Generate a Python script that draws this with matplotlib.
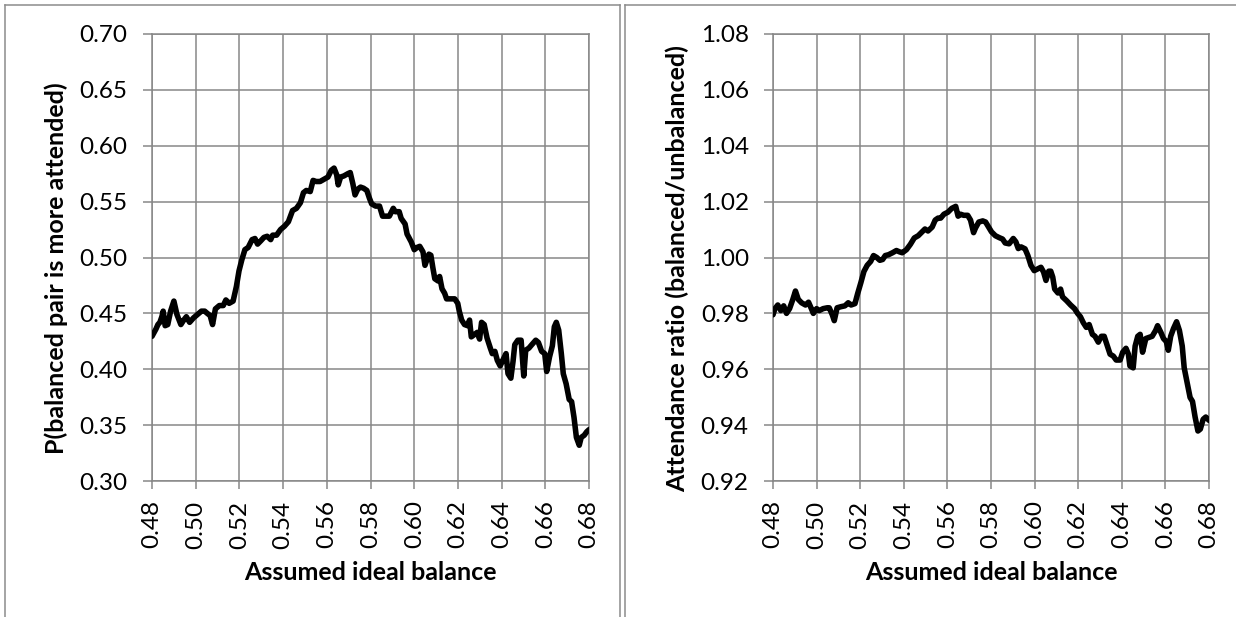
import matplotlib
matplotlib.use("Agg")
import matplotlib.pyplot as plt
from matplotlib.lines import Line2D
from matplotlib.ticker import FormatStrFormatter

plt.rcParams['font.family'] = ['Lato', 'DejaVu Sans']

# ---- data ----
x_left = [0.4800, 0.4818, 0.4827, 0.4836, 0.4845, 0.4851, 0.4860, 0.4872, 0.4885, 0.4900,
          0.4914, 0.4932, 0.4945, 0.4957, 0.4972, 0.4990, 0.5008, 0.5026, 0.5041, 0.5053,
          0.5066, 0.5077, 0.5090, 0.5108, 0.5126, 0.5138, 0.5153, 0.5171, 0.5186, 0.5198,
          0.5211, 0.5225, 0.5240, 0.5258, 0.5271, 0.5283, 0.5298, 0.5312, 0.5327, 0.5343,
          0.5352, 0.5370, 0.5388, 0.5406, 0.5424, 0.5443, 0.5461, 0.5479, 0.5493, 0.5506,
          0.5524, 0.5537, 0.5551, 0.5569, 0.5587, 0.5605, 0.5620, 0.5633, 0.5645, 0.5652,
          0.5663, 0.5678, 0.5696, 0.5707, 0.5719, 0.5729, 0.5741, 0.5754, 0.5768, 0.5783,
          0.5795, 0.5805, 0.5823, 0.5841, 0.5855, 0.5868, 0.5886, 0.5904, 0.5913, 0.5931,
          0.5940, 0.5958, 0.5967, 0.5986, 0.6000, 0.6013, 0.6025, 0.6040, 0.6049, 0.6058,
          0.6067, 0.6076, 0.6085, 0.6094, 0.6109, 0.6116, 0.6127, 0.6139, 0.6148, 0.6167,
          0.6185, 0.6199, 0.6206, 0.6217, 0.6230, 0.6244, 0.6253, 0.6261, 0.6275, 0.6288,
          0.6299, 0.6308, 0.6320, 0.6333, 0.6348, 0.6357, 0.6369, 0.6380, 0.6393, 0.6405,
          0.6420, 0.6429, 0.6442, 0.6452, 0.6460, 0.6474, 0.6489, 0.6501, 0.6510, 0.6525,
          0.6538, 0.6556, 0.6568, 0.6583, 0.6597, 0.6606, 0.6619, 0.6632, 0.6641, 0.6650,
          0.6661, 0.6673, 0.6682, 0.6695, 0.6709, 0.6720, 0.6731, 0.6742, 0.6755, 0.6764,
          0.6778, 0.6789, 0.6800]
p_balanced = [0.4295, 0.436, 0.440, 0.442, 0.447, 0.452, 0.439, 0.440, 0.452, 0.461,
              0.449, 0.440, 0.444, 0.447, 0.442, 0.446, 0.449, 0.452, 0.452, 0.450,
              0.448, 0.440, 0.454, 0.457, 0.457, 0.462, 0.459, 0.461, 0.474, 0.488,
              0.498, 0.507, 0.509, 0.516, 0.517, 0.512, 0.515, 0.518, 0.519, 0.516,
              0.520, 0.520, 0.525, 0.528, 0.532, 0.542, 0.544, 0.549, 0.558, 0.560,
              0.559, 0.569, 0.568, 0.568, 0.570, 0.572, 0.578, 0.580, 0.574, 0.565,
              0.572, 0.573, 0.575, 0.576, 0.566, 0.556, 0.561, 0.563, 0.562, 0.560,
              0.553, 0.548, 0.546, 0.546, 0.537, 0.537, 0.537, 0.544, 0.541, 0.541,
              0.535, 0.530, 0.521, 0.514, 0.507, 0.509, 0.510, 0.505, 0.493, 0.498,
              0.503, 0.502, 0.491, 0.481, 0.479, 0.483, 0.472, 0.468, 0.463, 0.463,
              0.463, 0.459, 0.452, 0.444, 0.440, 0.439, 0.444, 0.429, 0.431, 0.433,
              0.427, 0.442, 0.440, 0.428, 0.419, 0.414, 0.416, 0.408, 0.403, 0.408,
              0.414, 0.396, 0.392, 0.407, 0.422, 0.426, 0.426, 0.394, 0.417, 0.419,
              0.422, 0.426, 0.424, 0.416, 0.414, 0.398, 0.411, 0.421, 0.438, 0.442,
              0.435, 0.414, 0.396, 0.387, 0.373, 0.371, 0.357, 0.339, 0.332, 0.339,
              0.341, 0.344, 0.346]

x_right = [0.4800, 0.4809, 0.4822, 0.4836, 0.4849, 0.4862, 0.4876, 0.4891, 0.4903, 0.4916,
           0.4931, 0.4949, 0.4963, 0.4976, 0.4985, 0.5000, 0.5012, 0.5030, 0.5049, 0.5058,
           0.5072, 0.5081, 0.5094, 0.5112, 0.5130, 0.5145, 0.5158, 0.5176, 0.5188, 0.5203,
           0.5217, 0.5232, 0.5248, 0.5261, 0.5276, 0.5290, 0.5303, 0.5315, 0.5330, 0.5348,
           0.5366, 0.5381, 0.5393, 0.5412, 0.5430, 0.5448, 0.5466, 0.5484, 0.5497, 0.5511,
           0.5530, 0.5544, 0.5557, 0.5569, 0.5584, 0.5602, 0.5620, 0.5638, 0.5649, 0.5660,
           0.5675, 0.5693, 0.5706, 0.5720, 0.5729, 0.5744, 0.5762, 0.5775, 0.5789, 0.5802,
           0.5820, 0.5838, 0.5853, 0.5865, 0.5883, 0.5902, 0.5914, 0.5925, 0.5938, 0.5956,
           0.5969, 0.5983, 0.5998, 0.6016, 0.6029, 0.6041, 0.6052, 0.6065, 0.6074, 0.6083,
           0.6092, 0.6107, 0.6119, 0.6128, 0.6147, 0.6165, 0.6183, 0.6197, 0.6210, 0.6223,
           0.6237, 0.6250, 0.6265, 0.6277, 0.6292, 0.6306, 0.6319, 0.6334, 0.6346, 0.6361,
           0.6374, 0.6392, 0.6404, 0.6419, 0.6430, 0.6437, 0.6452, 0.6461, 0.6473, 0.6484,
           0.6495, 0.6510, 0.6524, 0.6539, 0.6555, 0.6564, 0.6579, 0.6591, 0.6604, 0.6613,
           0.6624, 0.6637, 0.6651, 0.6664, 0.6677, 0.6686, 0.6700, 0.6713, 0.6724, 0.6736,
           0.6749, 0.6760, 0.6773, 0.6785, 0.6800]
att_ratio = [0.9795, 0.9817, 0.983, 0.981, 0.9827, 0.980, 0.9817, 0.985, 0.988, 0.985,
             0.9838, 0.983, 0.984, 0.9817, 0.980, 0.9817, 0.981, 0.9817, 0.982, 0.982,
             0.9795, 0.9774, 0.982, 0.9824, 0.9827, 0.9838, 0.983, 0.9835, 0.987, 0.991,
             0.995, 0.9972, 0.9986, 1.0007, 1.000, 0.999, 0.9993, 1.0007, 1.001, 1.0017,
             1.0025, 1.002, 1.0017, 1.0028, 1.0047, 1.007, 1.0078, 1.0092, 1.0102, 1.0095,
             1.0109, 1.0134, 1.0141, 1.0141, 1.0155, 1.0162, 1.0176, 1.0183, 1.0148, 1.0155,
             1.0151, 1.0151, 1.0134, 1.0089, 1.0106, 1.0127, 1.0131, 1.0127, 1.0109, 1.0092,
             1.0078, 1.0071, 1.0066, 1.0052, 1.0049, 1.0068, 1.0056, 1.0032, 1.0038, 1.0031,
             1.0007, 0.9972, 0.9953, 0.996, 0.9965, 0.9948, 0.9918, 0.9951, 0.9951, 0.993,
             0.9887, 0.9873, 0.9887, 0.9859, 0.9845, 0.983, 0.9817, 0.980, 0.9788, 0.9767,
             0.975, 0.976, 0.9725, 0.9718, 0.9697, 0.9718, 0.9718, 0.9683, 0.9654, 0.9647,
             0.9633, 0.9633, 0.9661, 0.9675, 0.9654, 0.9612, 0.9605, 0.9683, 0.9718, 0.9725,
             0.9661, 0.971, 0.9714, 0.9718, 0.9739, 0.9756, 0.9732, 0.971, 0.9699, 0.9668,
             0.9718, 0.9746, 0.977, 0.9739, 0.9683, 0.9605, 0.9549, 0.9499, 0.9485, 0.9429,
             0.9379, 0.9386, 0.9421, 0.9429, 0.9417]

x_ticks = [0.48, 0.50, 0.52, 0.54, 0.56, 0.58, 0.60, 0.62, 0.64, 0.66, 0.68]
left_yticks = [0.30, 0.35, 0.40, 0.45, 0.50, 0.55, 0.60, 0.65, 0.70]
right_yticks = [0.92, 0.94, 0.96, 0.98, 1.00, 1.02, 1.04, 1.06, 1.08]

GRID = '#878787'

fig = plt.figure(figsize=(12.36, 6.17), dpi=100)

# panel frames (figure pixel coords -> fraction)
W, H = 1236.0, 617.0
def frame_line(x0, y0, x1, y1):
    fig.add_artist(Line2D([x0 / W, x1 / W], [1 - y0 / H, 1 - y1 / H],
                          color='#8c8c8c', lw=1.1, transform=fig.transFigure))

frame_line(5, 5, 620, 5)
frame_line(5, 5, 5, 617)
frame_line(620, 5, 620, 617)
frame_line(625, 5, 1236, 5)
frame_line(625, 5, 625, 617)


def draw_panel(rect, x, y, yticks, ylabel):
    ax = fig.add_axes(rect)
    ax.plot(x, y, color='black', lw=4.0, solid_joinstyle='round', solid_capstyle='round',
            zorder=3)
    ax.set_xlim(0.48, 0.68)
    ax.set_ylim(yticks[0], yticks[-1])
    ax.set_xticks(x_ticks)
    ax.set_yticks(yticks)
    ax.xaxis.set_major_formatter(FormatStrFormatter('%.2f'))
    ax.yaxis.set_major_formatter(FormatStrFormatter('%.2f'))
    ax.grid(True, color=GRID, lw=1.1)
    ax.set_axisbelow(True)
    for s in ax.spines.values():
        s.set_color(GRID)
        s.set_linewidth(1.1)
    ax.tick_params(axis='y', length=6.5, width=1.1, color=GRID, pad=11,
                   labelsize=17.5)
    ax.tick_params(axis='x', length=6, width=1.1, color=GRID, pad=8,
                   labelsize=17.5, labelrotation=90)
    ax.set_xlabel('Assumed ideal balance', fontsize=18, fontweight='bold')
    ax.xaxis.set_label_coords(0.5, -0.178)
    ax.set_ylabel(ylabel, fontsize=18, fontweight='bold')
    ax.yaxis.set_label_coords(-0.192, 0.475)
    return ax


draw_panel([0.1230, 0.2204, 0.3536, 0.7245], x_left, p_balanced, left_yticks,
           'P(balanced pair is more attended)')
draw_panel([0.6254, 0.2204, 0.3528, 0.7245], x_right, att_ratio, right_yticks,
           'Attendance ratio (balanced/unbalanced)')

fig.savefig('out.png', dpi=100)
